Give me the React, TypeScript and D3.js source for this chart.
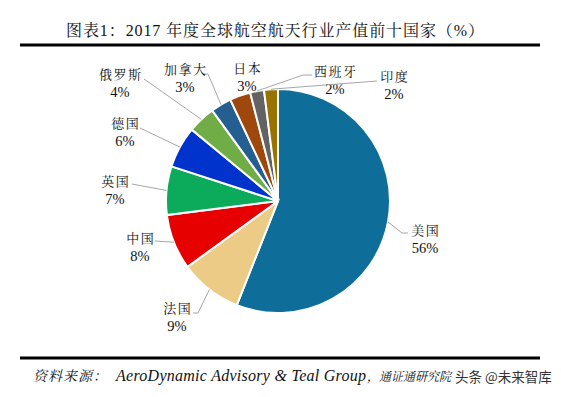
import React from "react";
import * as d3 from "d3";

const countries = ["美国", "法国", "中国", "英国", "德国", "俄罗斯", "加拿大", "日本", "西班牙", "印度"];
const shares = [56, 9, 8, 7, 6, 4, 3, 3, 2, 2];
const colors = ["#0f6e99", "#ebcb85", "#e60000", "#0bab5b", "#0033cc", "#70ad47", "#255e91", "#9e480e", "#636363", "#997300"];

const title = "图表1：2017 年度全球航空航天行业产值前十国家（%）";
const sourceHead = "资料来源：";
const sourceLatin = "AeroDynamic Advisory & Teal Group";
const sourceTail = "，通证通研究院";
const watermark = "头条 @未来智库";

// label layout: text centre x, name baseline y, leader end points
const labelLayout = [
  { x: 425, y: 235, pts: [[402, 233], [408, 233]] },
  { x: 177, y: 313, pts: [[198, 313], [193, 313]] },
  { x: 140, y: 243, pts: [[155, 241]] },
  { x: 115, y: 186, pts: [[132, 184]] },
  { x: 125, y: 128, pts: [[140, 128]] },
  { x: 120, y: 79, pts: [[144, 79]] },
  { x: 185, y: 74, pts: [[208, 74], [203, 74]] },
  { x: 247, y: 73, pts: [] },
  { x: 335, y: 76, pts: [[303, 75], [312, 75]] },
  { x: 394, y: 81, pts: [[377, 81]] },
];

export default function App() {
  const W = 561, H = 397;
  const cx = 278, cy = 201, r = 112;
  const pie = d3.pie<number>().sort(null).value((d) => d);
  const arcs = pie(shares);
  const arc = d3.arc<d3.PieArcDatum<number>>().innerRadius(0).outerRadius(r);
  const serif = "'Liberation Serif', 'Noto Serif CJK SC', 'Noto Sans CJK SC', serif";
  const line = d3.line();
  return (
    <svg width={W} height={H} style={{ position: "absolute", left: 0, top: 0, background: "#fff" }}>
      <text x={66} y={36} fontSize={16} fontFamily={serif} fill="#111" textLength={418} lengthAdjust="spacing">{title}</text>
      <line x1={20} x2={540} y1={45} y2={45} stroke="#000" strokeWidth={3} />
      <g transform={`translate(${cx},${cy})`}>
        {arcs.map((a, i) => (
          <path key={i} d={arc(a) || ""} fill={colors[i]} stroke="#fff" strokeWidth={2} />
        ))}
      </g>
      {arcs.map((a, i) => {
        const mid = (a.startAngle + a.endAngle) / 2;
        const ex = cx + r * Math.sin(mid);
        const ey = cy - r * Math.cos(mid);
        const L = labelLayout[i];
        const pts: [number, number][] = [[ex, ey], ...(L.pts as [number, number][])];
        return (
          <g key={i}>
            {L.pts.length > 0 && <path d={line(pts) || ""} fill="none" stroke="#a6a6a6" strokeWidth={1} />}
            <text x={L.x + 0.75} y={L.y} textAnchor="middle" fontSize={13} fontFamily={serif} letterSpacing={1.5} fill="#111">{countries[i]}</text>
            <text x={L.x} y={L.y + 18} textAnchor="middle" fontSize={14.5} fontFamily={serif} fill="#111">{shares[i]}%</text>
          </g>
        );
      })}
      <line x1={20} x2={540} y1={358} y2={358} stroke="#000" strokeWidth={3} />
      <g fontStyle="italic" fontFamily={serif} fill="#111">
        <text x={33} y={381} fontSize={14} textLength={74} lengthAdjust="spacing">{sourceHead}</text>
        <text x={116} y={381} fontSize={16} textLength={250} lengthAdjust="spacing">{sourceLatin}</text>
        <text x={367} y={381} fontSize={12.5} textLength={84} lengthAdjust="spacingAndGlyphs">{sourceTail}</text>
      </g>
      <text x={455} y={382} fontSize={13.5} fontFamily="'Noto Sans CJK SC', sans-serif" fill="#333">{watermark}</text>
    </svg>
  );
}
